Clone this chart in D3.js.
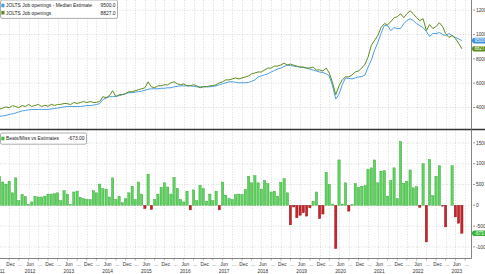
<!DOCTYPE html>
<html>
<head>
<meta charset="utf-8">
<script src="https://cdn.jsdelivr.net/npm/d3@7"></script>
<style>
  html, body { margin: 0; padding: 0; background: #fff; overflow: hidden; }
  svg { display: block; font-family: "Liberation Sans", Arial, sans-serif; }
</style>
</head>
<body>
<svg id="chart" width="485" height="274"></svg>
<script>
// one value per monthly release, first one Sep 2011
const firstRelease = new Date(2011, 8, 1);

const actual = [
  3850, 3950, 4050, 3980, 4150, 4080, 3990, 4160, 4080, 4250,
  4090, 4170, 4250, 4090, 4180, 4100, 4260, 4170, 4250, 4260,
  4330, 4320, 4240, 4410, 4330, 4410, 4490, 4400, 4490, 4410,
  4420, 4490, 4890, 4810, 4970, 5380, 4890, 5050, 5060, 5140,
  5300, 5290, 5380, 5460, 5540, 5620, 6110, 5700, 5620, 5780,
  5790, 5870, 5860, 6030, 6110, 5950, 5870, 5940, 5780, 5790,
  5870, 5780, 5620, 5700, 5710, 5780, 5790, 5870, 6030, 6110,
  6270, 6270, 6350, 6430, 6350, 6430, 6510, 6600, 6760, 6840,
  6920, 6920, 7080, 7240, 7240, 7400, 7410, 7490, 7650, 7490,
  7570, 7480, 7400, 7320, 7330, 7240, 7250, 7320, 7080, 7090,
  7000, 7240, 6840, 6030, 5050, 5780, 6270, 6510, 6520, 6680,
  6920, 7000, 7240, 7570, 8140, 9110, 9510, 9920, 10570, 10890,
  10810, 11050, 11380, 11460, 11700, 11380, 11700, 11950, 11700, 11380,
  11140, 11300, 10320, 10810, 10490, 10650, 10970, 10650, 10080, 9760,
  9920, 9680, 9270, 8827
];

const estimate = [
  3270, 3310, 3350, 3430, 3470, 3550, 3640, 3720, 3760, 3800,
  3840, 3840, 3840, 3840, 3840, 3840, 3880, 3920, 3960, 4000,
  4040, 4080, 4080, 4080, 4080, 4080, 4120, 4160, 4160, 4200,
  4240, 4320, 4650, 4770, 4890, 4890, 4930, 4970, 5050, 5140,
  5220, 5220, 5260, 5300, 5340, 5420, 5500, 5540, 5540, 5540,
  5580, 5580, 5620, 5620, 5700, 5740, 5780, 5780, 5780, 5780,
  5740, 5700, 5700, 5700, 5700, 5700, 5740, 5780, 5870, 5950,
  6030, 6110, 6110, 6070, 6030, 6030, 6030, 6070, 6150, 6270,
  6510, 6600, 6680, 6760, 6920, 7040, 7160, 7240, 7370, 7490,
  7450, 7400, 7360, 7320, 7280, 7240, 7160, 7080, 7000, 6920,
  6880, 6760, 6600, 5780, 4700, 5100, 5870, 6430, 6390, 6350,
  6430, 6510, 6550, 6680, 7320, 7890, 8700, 9350, 10080, 10730,
  10730, 10320, 10570, 10490, 10490, 10890, 11140, 11300, 11140, 10890,
  10730, 10570, 10240, 9840, 10080, 10080, 10160, 10000, 9920, 10080,
  9920, 9760, 9640, 9500
];

const beatMiss = [
  700, 560, 510, 580, 300, 660, 110, 260, 210, 20,
  80, 220, 200, 200, 220, 270, 270, 280, 300, 110,
  350, 270, 20, 320, 340, 190, 160, 140, 140, 350,
  300, 510, 400, 390, 200, 660, 140, 220, 60, 160,
  300, 460, 140, 560, 270, -80, 750, -100, 140, 270,
  430, 540, 440, 270, 670, 400, 140, 80, 340, -110,
  370, 110, 480, 400, 100, 270, 110, 340, -110, 560,
  240, 160, 140, 260, 270, 260, 380, 700, 540, 710,
  540, 390, 600, 520, 320, 340, 220, 550, 640, 300,
  -470, -40, -300, -240, -180, -260, -60, 100, 320, -320,
  -210, 790, 500, 30, -1040, 1090, 30, 540, -140, 20,
  520, 430, 460, 470, 870, 900, 1090, 540, 820, 830,
  220, 590, 900, 160, 1530, 530, 580, 850, 420, 450,
  -50, 1000, -880, 1100, 230, 700, 950, -20, -520, 0,
  950, -280, -430, -673
];

const topTicks = [4000, 6000, 8000, 10000, 12000];
const bottomTicks = [-1000, -500, 0, 500, 1000, 1500];
const quarterLabels = { 2: '...', 5: 'Jun', 8: '...', 11: 'Dec' };
const years = [2011, 2012, 2013, 2014, 2015, 2016, 2017, 2018, 2019, 2020, 2021, 2022, 2023];

const legendTop = [
  { name: 'JOLTS Job openings - Median Estimate', value: '9500.0', color: '#4a9fe3' },
  { name: 'JOLTS Job openings', value: '8827.0', color: '#5f8c1e' }
];
const legendBottom = { name: 'Beats/Miss vs Estimates', value: '-673.00', color: '#3fbf3f' };

const svg = d3.select('#chart');
const W = 485;
const axisX = 471.5;
const topPanel = [0, 129];
const bottomPanel = [130, 258];

const dates = actual.map((d, i) => d3.timeMonth.offset(firstRelease, i));

const x = d3.scaleTime()
  .domain([new Date(2011, 8, 6), new Date(2023, 9, 26)])
  .range([0, 471]);
const yTop = d3.scaleLinear().domain([2233, 12836]).range([topPanel[1], topPanel[0]]);
const yBot = d3.scaleLinear().domain([-1267, 1810]).range([bottomPanel[1], bottomPanel[0]]);

svg.append('defs').append('clipPath').attr('id', 'plotClip')
  .append('rect').attr('x', 0).attr('y', 0).attr('width', axisX).attr('height', 258);

// grid
const grid = svg.append('g').attr('stroke', '#c4c4c4').attr('stroke-width', 0.6)
  .attr('stroke-dasharray', '1,1.6');

const quarterStarts = d3.timeMonths(new Date(2011, 7, 1), new Date(2023, 11, 1))
  .filter(d => d.getMonth() % 3 === 2);

grid.selectAll('.vgrid')
  .data(quarterStarts.filter(d => x(d) > 0 && x(d) < axisX))
  .join('line')
  .attr('x1', d => Math.round(x(d)) + 0.5).attr('x2', d => Math.round(x(d)) + 0.5)
  .attr('y1', 0).attr('y2', bottomPanel[1]);

grid.selectAll('.hgridTop')
  .data(topTicks)
  .join('line')
  .attr('x1', 0).attr('x2', axisX)
  .attr('y1', d => yTop(d)).attr('y2', d => yTop(d));

grid.selectAll('.hgridBot')
  .data(bottomTicks)
  .join('line')
  .attr('x1', 0).attr('x2', axisX)
  .attr('y1', d => yBot(d)).attr('y2', d => yBot(d));

// lines
const plot = svg.append('g').attr('clip-path', 'url(#plotClip)');

const line = d3.line()
  .x((d, i) => x(dates[i]))
  .y(d => yTop(d));

plot.append('path')
  .datum(estimate)
  .attr('fill', 'none')
  .attr('stroke', legendTop[0].color)
  .attr('stroke-width', 1)
  .attr('d', line);

plot.append('path')
  .datum(actual)
  .attr('fill', 'none')
  .attr('stroke', legendTop[1].color)
  .attr('stroke-width', 1)
  .attr('d', line);

// bars
const barW = 2.3;
plot.selectAll('.bar')
  .data(beatMiss)
  .join('rect')
  .attr('x', (d, i) => x(dates[i]) - barW / 2)
  .attr('width', barW)
  .attr('y', d => yBot(Math.max(0, d)))
  .attr('height', d => Math.abs(yBot(d) - yBot(0)))
  .attr('fill', d => d >= 0 ? '#5fd35f' : '#c8232b')
  .attr('stroke', d => d >= 0 ? '#2f9f2f' : '#8e1218')
  .attr('stroke-width', 0.4);

// frame
svg.append('line')
  .attr('x1', 0).attr('x2', W).attr('y1', 129.5).attr('y2', 129.5)
  .attr('stroke', '#333').attr('stroke-width', 1.5);
svg.append('line')
  .attr('x1', axisX).attr('x2', axisX).attr('y1', 0).attr('y2', 258.5)
  .attr('stroke', '#666').attr('stroke-width', 0.8);
svg.append('line')
  .attr('x1', 0).attr('x2', axisX).attr('y1', 258.5).attr('y2', 258.5)
  .attr('stroke', '#666').attr('stroke-width', 0.8);

// right axis labels
function rightAxis(ticks, scale) {
  const g = svg.append('g');
  g.selectAll('line')
    .data(ticks)
    .join('line')
    .attr('x1', axisX + 1.5).attr('x2', axisX + 3.5)
    .attr('y1', d => scale(d)).attr('y2', d => scale(d))
    .attr('stroke', '#555').attr('stroke-width', 0.6);
  g.selectAll('text')
    .data(ticks)
    .join('text')
    .attr('x', axisX + 4.5)
    .attr('y', d => scale(d) + 1.7)
    .attr('font-size', 4.8)
    .attr('fill', '#333')
    .text(d => d);
}
rightAxis(topTicks, yTop);
rightAxis(bottomTicks, yBot);

function pill(yPos, label, color) {
  svg.append('rect')
    .attr('x', axisX + 0.5).attr('y', yPos - 2.8)
    .attr('width', 20).attr('height', 5.6).attr('rx', 2.8)
    .attr('fill', color);
  svg.append('text')
    .attr('x', axisX + 3).attr('y', yPos + 1.6)
    .attr('font-size', 4.5).attr('fill', '#fff')
    .text(label);
}
pill(yTop(estimate[estimate.length - 1]), legendTop[0].value, '#3e8fdc');
pill(yTop(actual[actual.length - 1]), legendTop[1].value, '#5f8c1e');
pill(yBot(beatMiss[beatMiss.length - 1]), legendBottom.value, '#36b336');

// x axis labels
const xAxis = svg.append('g').attr('font-size', 4.8).attr('fill', '#333').attr('text-anchor', 'middle');
xAxis.selectAll('.qlabel')
  .data(quarterStarts.map(d => new Date(d.getFullYear(), d.getMonth(), 15)).filter(d => x(d) > 2 && x(d) < axisX))
  .join('text')
  .attr('x', d => x(d))
  .attr('y', 266)
  .text(d => quarterLabels[d.getMonth()]);

xAxis.selectAll('.ylabel')
  .data(years)
  .join('text')
  .attr('x', d => Math.max(x(new Date(d, 5, 15)), -0.5))
  .attr('y', 273.3)
  .text(d => d);

xAxis.selectAll('.tick')
  .data(quarterStarts.filter(d => x(d) > 0 && x(d) < axisX))
  .join('line')
  .attr('x1', d => x(d)).attr('x2', d => x(d))
  .attr('y1', 258.5).attr('y2', 260.5)
  .attr('stroke', '#666').attr('stroke-width', 0.5);

// legends
function legend(items, y0, w) {
  const g = svg.append('g');
  g.append('rect')
    .attr('x', 0.5).attr('y', y0 + 0.5)
    .attr('width', w).attr('height', items.length * 7.2 + 4)
    .attr('rx', 1.5)
    .attr('fill', '#fff').attr('stroke', '#8a8a8a').attr('stroke-width', 0.7);
  items.forEach((it, i) => {
    const by = y0 + 7.8 + i * 7.2;
    g.append('rect')
      .attr('x', 1.3).attr('y', by - 3.6).attr('width', 3.2).attr('height', 3.6)
      .attr('fill', it.color);
    g.append('text')
      .attr('x', 6).attr('y', by)
      .attr('font-size', 4.9).attr('fill', '#222')
      .text(it.name);
    g.append('text')
      .attr('x', w - 1.5).attr('y', by)
      .attr('font-size', 4.9).attr('fill', '#222').attr('text-anchor', 'end')
      .text(it.value);
  });
}
legend(legendTop, -0.5, 117);
legend([legendBottom], 132.5, 86);
</script>
</body>
</html>
